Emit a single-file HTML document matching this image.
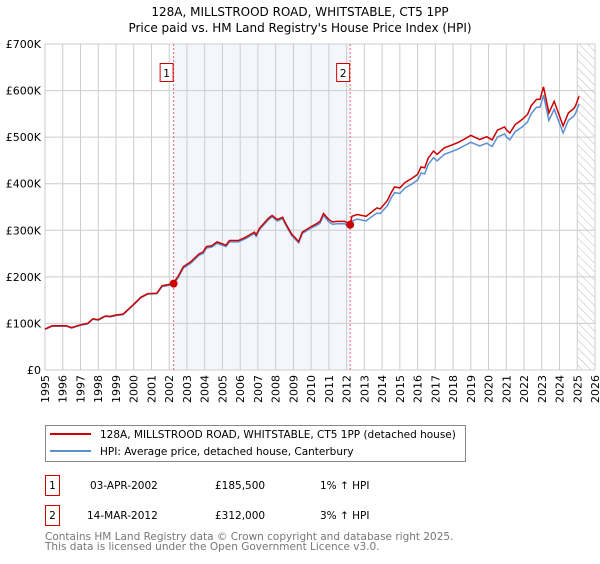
<!DOCTYPE html>
<html><head><meta charset="utf-8"><style>
body{margin:0;background:#fff;font-family:"DejaVu Sans","Liberation Sans",sans-serif;}
svg text{font-family:"DejaVu Sans","Liberation Sans",sans-serif;}
</style></head><body>
<svg id="chart" width="600" height="560" viewBox="0 0 600 560">
<text x="300" y="16" text-anchor="middle" font-size="12">128A, MILLSTROOD ROAD, WHITSTABLE, CT5 1PP</text>
<text x="300" y="32" text-anchor="middle" font-size="12">Price paid vs. HM Land Registry's House Price Index (HPI)</text>
<defs><pattern id="hatch" width="6" height="6" patternUnits="userSpaceOnUse" patternTransform="rotate(-45)"><line x1="0" y1="0" x2="0" y2="6" stroke="#bbb" stroke-width="1"/></pattern></defs>
<g id="plot"></g>
<g>
<rect x="45.5" y="425.5" width="420" height="36" fill="#fff" stroke="#888"/>
<line x1="50" y1="434" x2="91" y2="434" stroke="#cc0000" stroke-width="2"/>
<text x="100" y="438" font-size="10.5">128A, MILLSTROOD ROAD, WHITSTABLE, CT5 1PP (detached house)</text>
<line x1="50" y1="451" x2="91" y2="451" stroke="#5b8fd0" stroke-width="2"/>
<text x="100" y="455" font-size="10.5">HPI: Average price, detached house, Canterbury</text>
</g>
<g font-size="10.5">
<rect x="45.5" y="475.5" width="14" height="20" fill="#fff" stroke="#cc0000"/>
<text x="52.5" y="489" text-anchor="middle">1</text>
<text x="90" y="489">03-APR-2002</text><text x="215" y="489">£185,500</text><text x="320" y="489">1% ↑ HPI</text>
<rect x="45.5" y="505.5" width="14" height="20" fill="#fff" stroke="#cc0000"/>
<text x="52.5" y="519" text-anchor="middle">2</text>
<text x="87" y="519">14-MAR-2012</text><text x="215" y="519">£312,000</text><text x="320" y="519">3% ↑ HPI</text>
</g>
<text x="45" y="540" font-size="10.5" fill="#777">Contains HM Land Registry data © Crown copyright and database right 2025.</text>
<text x="45" y="550" font-size="10.5" fill="#777">This data is licensed under the Open Government Licence v3.0.</text>
</svg>
<script>
const years=[1995,1995.4,1996.2,1996.5,1997,1997.4,1997.7,1998,1998.4,1998.7,1999,1999.4,2000,2000.4,2000.8,2001.3,2001.6,2001.9,2002.2,2002.5,2002.8,2003.2,2003.7,2003.9,2004.1,2004.4,2004.7,2005.2,2005.4,2005.9,2006.3,2006.8,2006.9,2007.1,2007.6,2007.8,2008.1,2008.4,2008.5,2008.9,2009.3,2009.5,2010,2010.3,2010.5,2010.7,2011,2011.2,2011.5,2011.9,2012.2,2012.3,2012.6,2013.1,2013.3,2013.7,2013.9,2014.3,2014.5,2014.7,2015,2015.3,2015.7,2016,2016.2,2016.4,2016.6,2016.9,2017.1,2017.5,2018,2018.3,2018.6,2019,2019.5,2019.9,2020.2,2020.5,2020.9,2021,2021.2,2021.5,2021.9,2022.2,2022.4,2022.7,2022.9,2023.1,2023.4,2023.7,2024.2,2024.5,2024.8,2024.9,2025.1];
const priceSeries=[88,95,95,91,97,100,110,108,116,115,118,120,141,156,164,165,181,183,185,201,222,232,250,253,265,267,275,268,278,278,285,296,290,305,326,332,323,328,319,292,276,296,308,314,319,336,323,318,319,319,312,330,334,330,336,348,346,364,380,393,391,403,412,420,436,434,455,470,463,477,484,489,495,504,495,501,494,515,522,516,509,527,538,549,567,581,581,608,552,577,524,552,561,567,588];
const hpiSeries=[87,94,94,90,96,99,109,107,115,114,117,119,140,155,163,164,179,181,184,198,219,229,247,250,262,264,272,265,275,275,282,293,287,302,323,329,320,325,316,289,273,293,305,310,315,332,318,313,314,314,305,320,324,320,326,337,336,353,369,381,379,391,400,408,423,421,441,456,449,463,470,475,481,489,481,487,480,500,507,501,494,512,522,533,550,564,564,590,536,560,509,536,545,551,571];
const yTicks=[0,100,200,300,400,500,600,700];
const yTickLabels=["£0","£100K","£200K","£300K","£400K","£500K","£600K","£700K"];
const xTicks=[1995,1996,1997,1998,1999,2000,2001,2002,2003,2004,2005,2006,2007,2008,2009,2010,2011,2012,2013,2014,2015,2016,2017,2018,2019,2020,2021,2022,2023,2024,2025,2026];
const saleYears=[2002.25,2012.2];
const saleValues=[185.5,312];
const saleLabels=["1","2"];
const X0=45,X1=595,Y0=370,Y1=44;
const xs=y=>X0+(y-1995)/(2026-1995)*(X1-X0);
const ys=v=>Y0-v/700*(Y0-Y1);
const NS="http://www.w3.org/2000/svg";
const g=document.getElementById('plot');
function mk(t,a,p){const e=document.createElementNS(NS,t);for(const k in a)e.setAttribute(k,a[k]);(p||g).appendChild(e);return e;}
let r=mk('rect',{x:xs(saleYears[0]),y:Y1,width:xs(saleYears[1])-xs(saleYears[0]),height:Y0-Y1,fill:'#eef3fc',opacity:0.7});


r=mk('rect',{x:xs(2025),y:Y1,width:X1-xs(2025),height:Y0-Y1,fill:'url(#hatch)'});


xTicks.forEach(t=>{const l=mk('line',{x1:xs(t),x2:xs(t),y1:Y1,y2:Y0,stroke:'#ccc','stroke-width':1});


const tx=mk('text',{x:0,y:0,'text-anchor':'end','font-size':11,transform:'translate('+(xs(t)+4).toFixed(1)+','+(Y0+5)+') rotate(-90)'});tx.textContent=t;

});
yTicks.forEach((t,i)=>{const l=mk('line',{x1:X0,x2:X1,y1:ys(t),y2:ys(t),stroke:'#ccc','stroke-width':1});


const tx=mk('text',{x:X0-4,y:ys(t)+4,'text-anchor':'end','font-size':11});tx.textContent=yTickLabels[i];

});
saleYears.forEach((s,i)=>{const l=mk('line',{x1:xs(s),x2:xs(s),y1:Y1,y2:Y0,stroke:'#f06060','stroke-width':1,'stroke-dasharray':'2,2'});


const b=mk('rect',{x:xs(s)-13.5,y:63.5,width:13,height:18,fill:'#fff',stroke:'#cc0000'});


const tx=mk('text',{x:xs(s)-7,y:77,'text-anchor':'middle','font-size':10.5});tx.textContent=saleLabels[i];

});
function path(vals){return vals.map((v,i)=>(i?'L':'M')+xs(years[i]).toFixed(1)+','+ys(v).toFixed(1)).join('');}
let p=mk('path',{d:path(hpiSeries),fill:'none',stroke:'#5b8fd0','stroke-width':1.5});


p=mk('path',{d:path(priceSeries),fill:'none',stroke:'#cc0000','stroke-width':1.5});


saleYears.forEach((s,i)=>{const c=mk('circle',{cx:xs(s),cy:ys(saleValues[i]),r:4,fill:'#cc0000'});

});
</script>
</body></html>
